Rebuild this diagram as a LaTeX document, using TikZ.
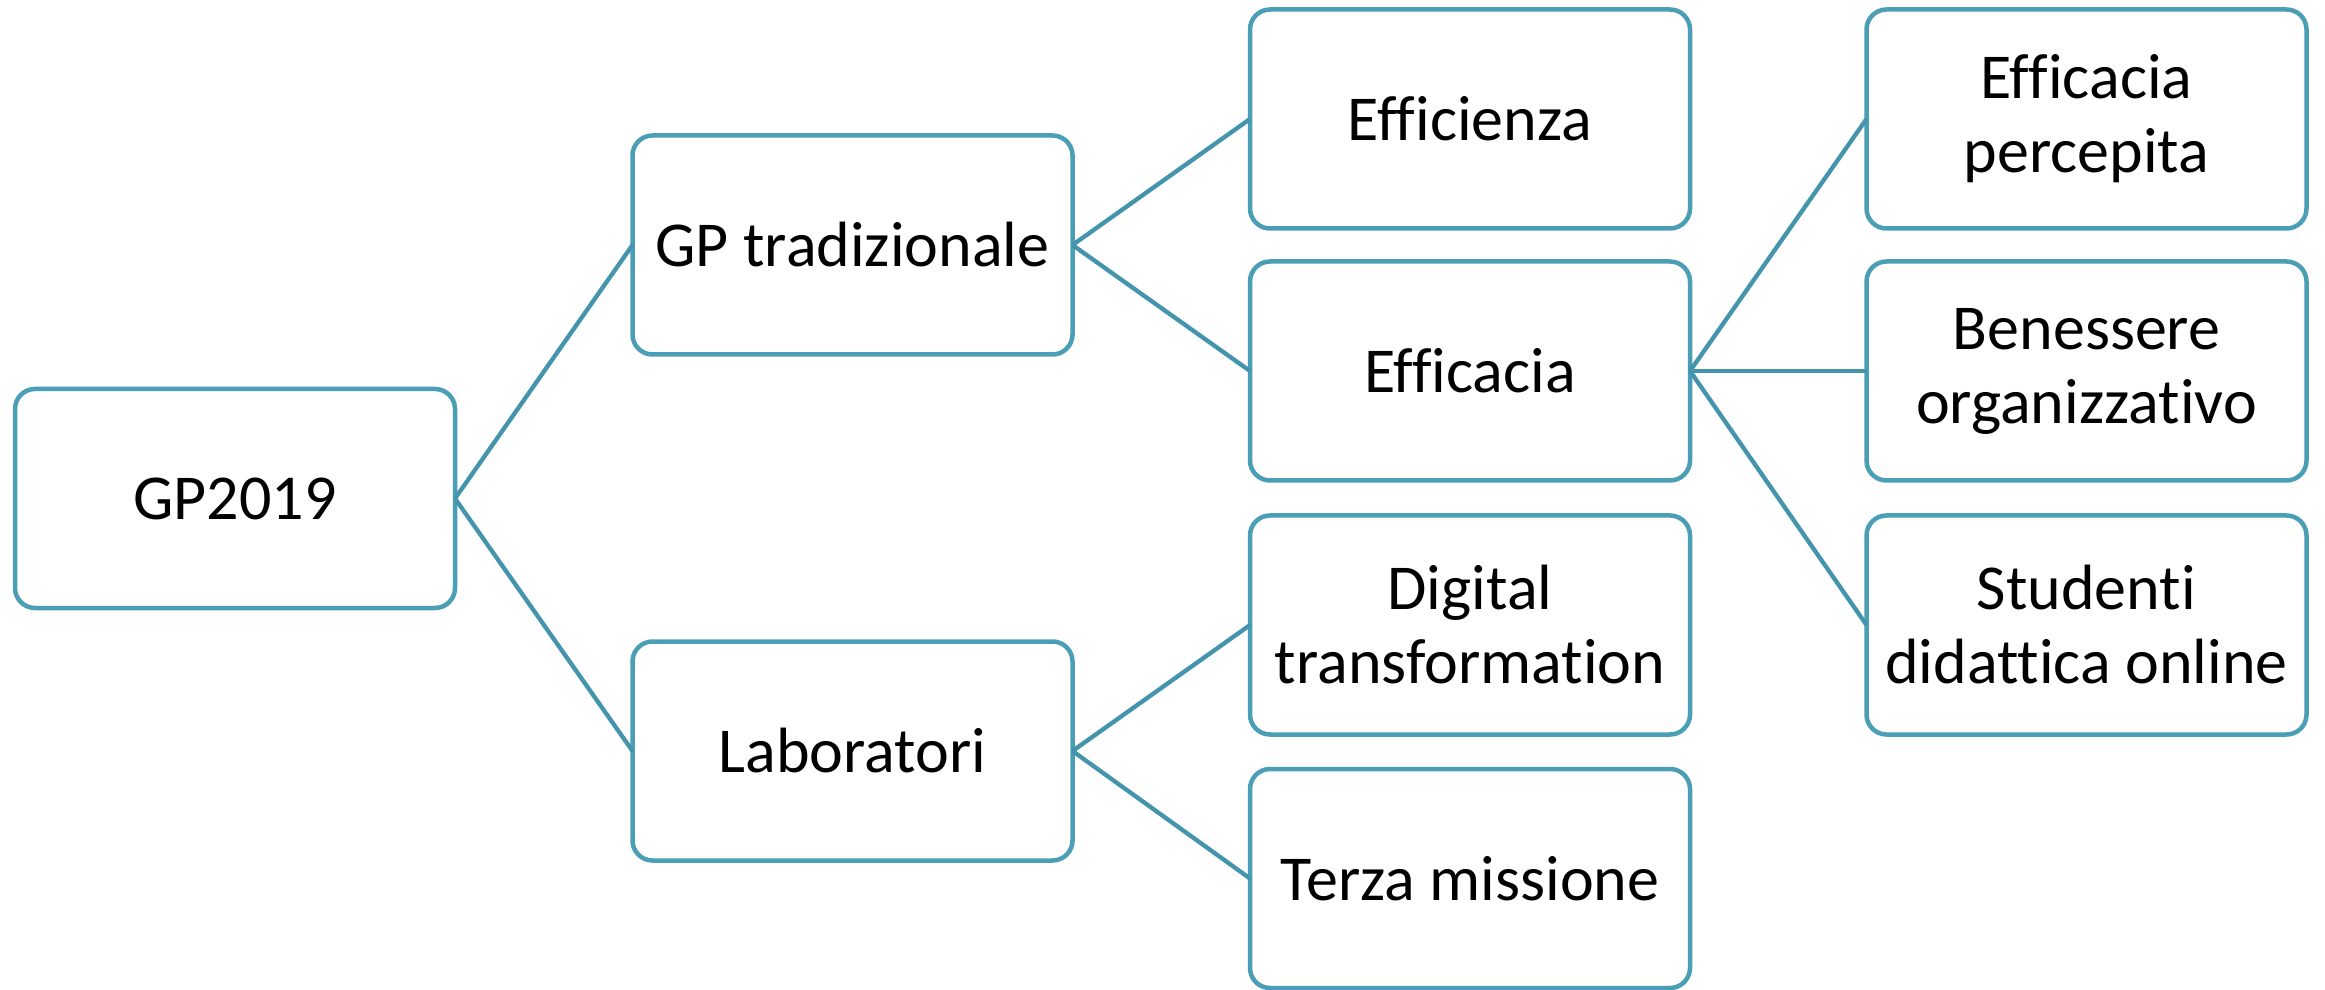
\documentclass[tikz,border=0pt]{standalone}
\usepackage{fontspec}
\setmainfont{Carlito}[Ligatures=NoCommon]
\definecolor{boxline}{HTML}{4A9EB6}
\definecolor{linkline}{HTML}{4394AC}
\begin{document}
\begin{tikzpicture}[x=1pt,y=1pt,
  tbox/.style={draw=boxline, line width=4.5pt, rounded corners=20pt, fill=white,
    minimum width=440pt, minimum height=219pt, inner sep=0pt, outer sep=0pt,
    align=center, font=\fontsize{64pt}{74pt}\selectfont},
  link/.style={draw=linkline, line width=4.3pt}]
\useasboundingbox[fill=white] (0,0) rectangle (2325,989);

% tree levels, left to right
\node[tbox] (root) at (235,490.5) {GP2019};
\node[tbox] (trad) at (852.5,744) {GP tradizionale};
\node[tbox] (lab)  at (852.5,238) {Laboratori};
\node[tbox] (effz) at (1470,870) {Efficienza};
\node[tbox] (effc) at (1470,618) {Efficacia};
\node[tbox] (dig)  at (1470,364) {Digital\\transformation};
\node[tbox] (terza) at (1470,110.5) {Terza missione};
\node[tbox] (perc) at (2086.5,870) {Efficacia\\percepita};
\node[tbox] (ben)  at (2086.5,618) {Benessere\\organizzativo};
\node[tbox] (stud) at (2086.5,364) {Studenti\\didattica online};

% connectors
\draw[link] (root.east) -- (trad.west);
\draw[link] (root.east) -- (lab.west);
\draw[link] (trad.east) -- (effz.west);
\draw[link] (trad.east) -- (effc.west);
\draw[link] (lab.east) -- (dig.west);
\draw[link] (lab.east) -- (terza.west);
\draw[link] (effc.east) -- (perc.west);
\draw[link] (effc.east) -- (ben.west);
\draw[link] (effc.east) -- (stud.west);
\end{tikzpicture}
\end{document}
